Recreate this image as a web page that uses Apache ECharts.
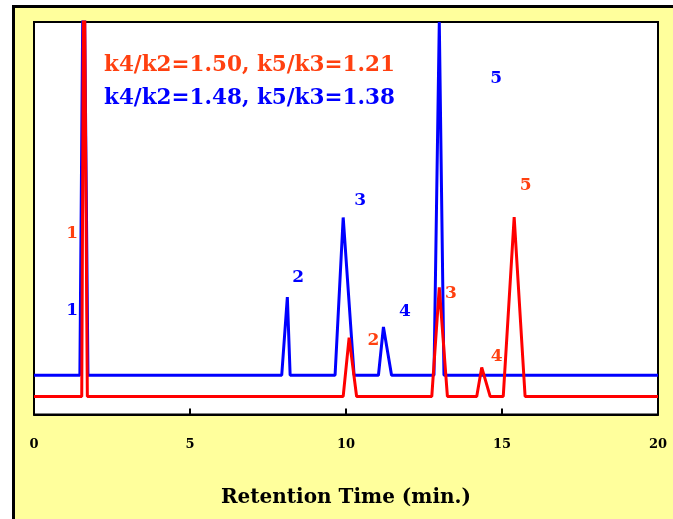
<!DOCTYPE html>
<html>
<head>
<meta charset="utf-8">
<script src="https://cdn.jsdelivr.net/npm/echarts@6/dist/echarts.min.js"></script>
<style>
  html, body { margin: 0; padding: 0; background: #fff; }
  #chart { width: 673px; height: 519px; }
</style>
</head>
<body>
<div id="chart"></div>
<script>
// retention time (min) / detector signal, baseline offset per trace
let blueTrace = [
  [0, 10], [1.47, 10], [1.59, 130], [1.73, 10],
  [7.94, 10], [8.12, 29.9], [8.21, 10],
  [9.65, 10], [9.91, 50.2], [10.26, 10],
  [11.04, 10], [11.20, 22.3], [11.46, 10],
  [12.82, 10], [12.99, 100], [13.14, 10],
  [20, 10]
];
let redTrace = [
  [0, 4.6], [1.53, 4.6], [1.60, 130], [1.71, 4.6],
  [9.91, 4.6], [10.10, 19.6], [10.34, 4.6],
  [12.75, 4.6], [12.99, 32.4], [13.25, 4.6],
  [14.19, 4.6], [14.35, 12], [14.62, 4.6],
  [15.04, 4.6], [15.39, 50.3], [15.74, 4.6],
  [20, 4.6]
];
// peak numbers [t, y, text]
let blueLabels = [
  [1.22, 26.5, '1'], [8.47, 34.9, '2'], [10.45, 54.4, '3'],
  [11.89, 26.1, '4'], [14.81, 85.6, '5']
];
let redLabels = [
  [1.22, 46.2, '1'], [10.88, 18.9, '2'], [13.36, 30.9, '3'],
  [14.83, 14.8, '4'], [15.76, 58.4, '5']
];
let xTicks = [0, 5, 10, 15, 20];
let redNote = 'k4/k2=1.50, k5/k3=1.21';
let blueNote = 'k4/k2=1.48, k5/k3=1.38';

let font = "'DejaVu Serif', serif";
let colors = {
  blue: '#0000ff',
  red: '#ff0000',
  redText: '#ff4010',
  yellow: '#ffff9c'
};

function labelSerie(data, color) {
  return {
    type: 'scatter',
    data: data,
    symbolSize: 0,
    silent: true,
    z: 5,
    itemStyle: { opacity: 1 },
    label: {
      show: true,
      position: 'inside',
      color: color,
      fontFamily: font,
      fontWeight: 'bold',
      fontSize: 17,
      formatter: function(p) { return p.data[2]; }
    }
  };
}

function lineSerie(data, color) {
  return {
    type: 'line',
    data: data,
    symbol: 'none',
    clip: true,
    lineStyle: { color: color, width: 3 }
  };
}

let option = {
  animation: false,
  graphic: [
    {
      type: 'rect',
      z: -100,
      shape: { x: 13.5, y: 6.5, width: 800, height: 700 },
      style: { fill: colors.yellow, stroke: '#000', lineWidth: 3 }
    },
    {
      type: 'text',
      left: 104,
      top: 54,
      z: 10,
      style: { text: redNote, fill: colors.redText, font: 'bold 21.5px ' + font }
    },
    {
      type: 'text',
      left: 104,
      top: 87,
      z: 10,
      style: { text: blueNote, fill: colors.blue, font: 'bold 21.5px ' + font }
    }
  ],
  grid: {
    left: 34,
    top: 22,
    right: 15,
    bottom: 104.5,
    show: true,
    backgroundColor: '#fff',
    borderColor: '#000',
    borderWidth: 2
  },
  xAxis: {
    type: 'value',
    min: xTicks[0],
    max: xTicks[xTicks.length - 1],
    interval: 5,
    name: 'Retention Time (min.)',
    nameLocation: 'middle',
    nameGap: 73,
    nameTextStyle: { color: '#000', fontFamily: font, fontWeight: 'bold', fontSize: 20 },
    axisLine: { lineStyle: { color: '#000', width: 2 } },
    axisTick: { inside: true, length: 6, lineStyle: { color: '#000', width: 2 } },
    axisLabel: { color: '#000', fontFamily: font, fontWeight: 'bold', fontSize: 13, margin: 24 },
    splitLine: { show: false }
  },
  yAxis: {
    type: 'value',
    min: 0,
    max: 100,
    show: false
  },
  series: [
    lineSerie(blueTrace, colors.blue),
    lineSerie(redTrace, colors.red),
    labelSerie(blueLabels, colors.blue),
    labelSerie(redLabels, colors.redText)
  ]
};

let chart = echarts.init(document.getElementById('chart'));
chart.setOption(option);
</script>
</body>
</html>
